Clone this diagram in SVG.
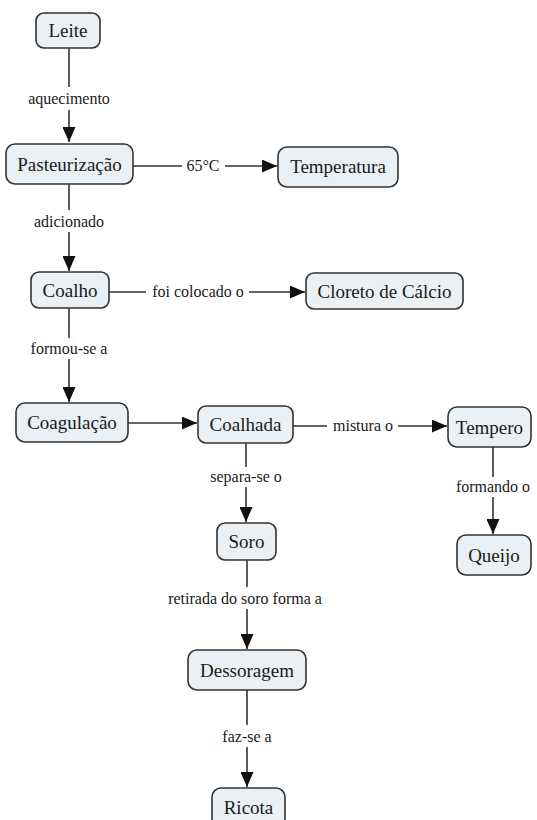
<svg xmlns="http://www.w3.org/2000/svg" width="537" height="820" viewBox="0 0 537 820">
  <style>
    .box { fill: #eaf0f4; stroke: #333; stroke-width: 1.6; }
    .ln { stroke: #333; stroke-width: 1.6; }
  </style>
  <defs>
    <marker id="arrow" markerUnits="userSpaceOnUse" markerWidth="15" markerHeight="13" refX="15" refY="6.5" orient="auto">
      <path d="M0,0 L15,6.5 L0,13 Z" fill="#111"/>
    </marker>
  </defs>
  <rect width="537" height="820" fill="#ffffff"/>

  <g id="connectors">
    <!-- Leite -> Pasteurização -->
    <line class="ln" x1="69" y1="48" x2="69" y2="87"/>
    <text font-family="Liberation Serif, serif" font-size="16" text-anchor="middle" fill="#1a1a1a" x="69" y="104">aquecimento</text>
    <line class="ln" x1="69" y1="110" x2="69" y2="142" marker-end="url(#arrow)"/>
    <!-- Pasteurização -> Temperatura -->
    <line class="ln" x1="133" y1="166" x2="182" y2="166"/>
    <text font-family="Liberation Serif, serif" font-size="16" text-anchor="middle" fill="#1a1a1a" x="203" y="171">65°C</text>
    <line class="ln" x1="225" y1="166" x2="277" y2="166" marker-end="url(#arrow)"/>
    <!-- Pasteurização -> Coalho -->
    <line class="ln" x1="69" y1="184" x2="69" y2="210"/>
    <text font-family="Liberation Serif, serif" font-size="16" text-anchor="middle" fill="#1a1a1a" x="69" y="227">adicionado</text>
    <line class="ln" x1="69" y1="232" x2="69" y2="271" marker-end="url(#arrow)"/>
    <!-- Coalho -> Cloreto de Cálcio -->
    <line class="ln" x1="109" y1="292" x2="146" y2="292"/>
    <text font-family="Liberation Serif, serif" font-size="16" text-anchor="middle" fill="#1a1a1a" x="198" y="297">foi colocado o</text>
    <line class="ln" x1="249" y1="292" x2="305" y2="292" marker-end="url(#arrow)"/>
    <!-- Coalho -> Coagulação -->
    <line class="ln" x1="69" y1="308" x2="69" y2="338"/>
    <text font-family="Liberation Serif, serif" font-size="16" text-anchor="middle" fill="#1a1a1a" x="69" y="354">formou-se a</text>
    <line class="ln" x1="69" y1="359" x2="69" y2="402" marker-end="url(#arrow)"/>
    <!-- Coagulação -> Coalhada -->
    <line class="ln" x1="128" y1="423" x2="197" y2="423" marker-end="url(#arrow)"/>
    <!-- Coalhada -> Tempero -->
    <line class="ln" x1="293" y1="426" x2="327" y2="426"/>
    <text font-family="Liberation Serif, serif" font-size="16" text-anchor="middle" fill="#1a1a1a" x="363" y="431">mistura o</text>
    <line class="ln" x1="398" y1="426" x2="447" y2="426" marker-end="url(#arrow)"/>
    <!-- Coalhada -> Soro -->
    <line class="ln" x1="246" y1="443" x2="246" y2="467"/>
    <text font-family="Liberation Serif, serif" font-size="16" text-anchor="middle" fill="#1a1a1a" x="246" y="482">separa-se o</text>
    <line class="ln" x1="246" y1="487" x2="246" y2="522" marker-end="url(#arrow)"/>
    <!-- Tempero -> Queijo -->
    <line class="ln" x1="493" y1="447" x2="493" y2="477"/>
    <text font-family="Liberation Serif, serif" font-size="16" text-anchor="middle" fill="#1a1a1a" x="493" y="492">formando o</text>
    <line class="ln" x1="493" y1="497" x2="493" y2="534" marker-end="url(#arrow)"/>
    <!-- Soro -> Dessoragem -->
    <line class="ln" x1="247" y1="560" x2="247" y2="587"/>
    <text font-family="Liberation Serif, serif" font-size="16" text-anchor="middle" fill="#1a1a1a" x="245" y="604">retirada do soro forma a</text>
    <line class="ln" x1="247" y1="609" x2="247" y2="649" marker-end="url(#arrow)"/>
    <!-- Dessoragem -> Ricota -->
    <line class="ln" x1="247" y1="690" x2="247" y2="725"/>
    <text font-family="Liberation Serif, serif" font-size="16" text-anchor="middle" fill="#1a1a1a" x="247" y="742">faz-se a</text>
    <line class="ln" x1="247" y1="747" x2="247" y2="787" marker-end="url(#arrow)"/>
  </g>

  <g id="leite"><rect class="box" x="36" y="13" width="64" height="35" rx="8"/><text font-family="Liberation Serif, serif" font-size="19" text-anchor="middle" fill="#1a1a1a" x="68" y="37">Leite</text></g>
  <g id="pasteurizacao"><rect class="box" x="6" y="144" width="127" height="40" rx="9"/><text font-family="Liberation Serif, serif" font-size="19" text-anchor="middle" fill="#1a1a1a" x="69.5" y="170.5">Pasteurização</text></g>
  <g id="temperatura"><rect class="box" x="278" y="147" width="120" height="40" rx="9"/><text font-family="Liberation Serif, serif" font-size="19" text-anchor="middle" fill="#1a1a1a" x="338" y="173">Temperatura</text></g>
  <g id="coalho"><rect class="box" x="31" y="272" width="78" height="36" rx="8"/><text font-family="Liberation Serif, serif" font-size="19" text-anchor="middle" fill="#1a1a1a" x="70" y="297">Coalho</text></g>
  <g id="cloreto"><rect class="box" x="306" y="273" width="157" height="36" rx="8"/><text font-family="Liberation Serif, serif" font-size="19" text-anchor="middle" fill="#1a1a1a" x="384.5" y="298">Cloreto de Cálcio</text></g>
  <g id="coagulacao"><rect class="box" x="16" y="403" width="112" height="39" rx="9"/><text font-family="Liberation Serif, serif" font-size="19" text-anchor="middle" fill="#1a1a1a" x="72" y="429">Coagulação</text></g>
  <g id="coalhada"><rect class="box" x="198" y="406" width="95" height="37" rx="8"/><text font-family="Liberation Serif, serif" font-size="19" text-anchor="middle" fill="#1a1a1a" x="245.5" y="431">Coalhada</text></g>
  <g id="tempero"><rect class="box" x="448" y="407" width="83" height="40" rx="9"/><text font-family="Liberation Serif, serif" font-size="19" text-anchor="middle" fill="#1a1a1a" x="489.5" y="433.5">Tempero</text></g>
  <g id="soro"><rect class="box" x="217" y="523" width="59" height="37" rx="8"/><text font-family="Liberation Serif, serif" font-size="19" text-anchor="middle" fill="#1a1a1a" x="246.5" y="548">Soro</text></g>
  <g id="queijo"><rect class="box" x="457" y="535" width="74" height="40" rx="9"/><text font-family="Liberation Serif, serif" font-size="19" text-anchor="middle" fill="#1a1a1a" x="494" y="561.5">Queijo</text></g>
  <g id="dessoragem"><rect class="box" x="188" y="650" width="118" height="40" rx="9"/><text font-family="Liberation Serif, serif" font-size="19" text-anchor="middle" fill="#1a1a1a" x="247" y="676.5">Dessoragem</text></g>
  <g id="ricota"><rect class="box" x="212" y="788" width="73" height="40" rx="9"/><text font-family="Liberation Serif, serif" font-size="19" text-anchor="middle" fill="#1a1a1a" x="248.5" y="814">Ricota</text></g>
</svg>
